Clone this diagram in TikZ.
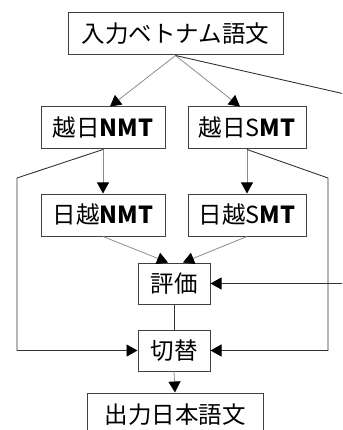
\documentclass[tikz,border=0pt]{standalone}
\usepackage{fontspec}
\setmainfont{Noto Sans CJK JP}
\usetikzlibrary{arrows.meta}
\begin{document}
\begin{tikzpicture}[x=1pt,y=-1pt,
  box/.style={draw=black!75, line width=1pt, inner sep=0pt, fill=white,
    font=\fontsize{23.5}{25}\selectfont},
  conn/.style={draw=black!45, line width=0.8pt},
  dark/.style={draw=black!80, line width=0.9pt},
  arr/.style={-{Triangle[width=12pt,length=11pt,color=black,fill=black]}}]
\useasboundingbox (0,0) rectangle (342,430);
\clip (0,0) rectangle (342,430);
\node[box, minimum width=215pt, minimum height=42pt] (top) at (175.5,34) {入力ベトナム語文};
\node[box, minimum width=124pt, minimum height=42pt] (n1) at (103,128) {越日\textbf{NMT}};
\node[box, minimum width=118pt, minimum height=42pt] (s1) at (247,128) {越日S\textbf{MT}};
\node[box, minimum width=124pt, minimum height=42pt] (n2) at (103,215) {日越\textbf{NMT}};
\node[box, minimum width=118pt, minimum height=42pt] (s2) at (247,215) {日越S\textbf{MT}};
\node[box, minimum width=72pt, minimum height=41pt] (ev) at (174,283.5) {評価};
\node[box, minimum width=72pt, minimum height=41pt] (sw) at (174,350.5) {切替};
\node[box, minimum width=176pt, minimum height=44pt] (out) at (175,415) {出力日本語文};
\coordinate (tr1) at (360,97.5);
\coordinate (tr2) at (360,283.5);
\coordinate (l1) at (17,178);
\coordinate (l2) at (17,350.5);
\coordinate (r1) at (328,178);
\coordinate (r2) at (328,350.5);
\draw[conn,arr] (top.south) -- ([xshift=7pt]n1.north);
\draw[conn,arr] (top.south) -- ([xshift=-7pt]s1.north);
\draw[dark,arr] (top.south) -- (tr1) -- (tr2) -- (ev.east);
\draw[conn,arr] (n1.south) -- (n2.north);
\draw[conn,arr] (s1.south) -- (s2.north);
\draw[conn,arr] (n2.south) -- ([xshift=-6pt]ev.north);
\draw[conn,arr] (s2.south) -- ([xshift=9pt]ev.north);
\draw[dark] (ev.south) -- (sw.north);
\draw[conn,arr] (sw.south) -- (out.north);
\draw[dark,arr] (n1.south) -- (l1) -- (l2) -- (sw.west);
\draw[dark,arr] (s1.south) -- (r1) -- (r2) -- (sw.east);
\end{tikzpicture}
\end{document}
